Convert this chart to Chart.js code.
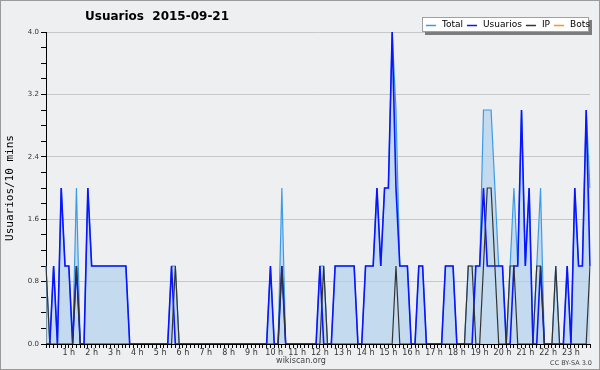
<!DOCTYPE html>
<html>
<head>
<meta charset="utf-8">
<script src="https://cdn.jsdelivr.net/npm/chart.js@4.4.1/dist/chart.umd.min.js"></script>
<style>
html, body { margin: 0; padding: 0; background: #eeeff1; }
#wrap { width: 600px; height: 370px; }
</style>
</head>
<body>
<div id="wrap"><canvas id="myChart" width="600" height="370"></canvas></div>
<script>
// 10-minute slots, 00:00 .. 23:50
const slots = [];
for (let h = 0; h < 24; h++) {
    for (let m = 0; m < 60; m += 10) {
        slots.push(String(h).padStart(2, '0') + ':' + String(m).padStart(2, '0'));
    }
}

const hourLabels = ['', '1 h', '2 h', '3 h', '4 h', '5 h', '6 h', '7 h', '8 h', '9 h', '10 h', '11 h',
    '12 h', '13 h', '14 h', '15 h', '16 h', '17 h', '18 h', '19 h', '20 h', '21 h', '22 h', '23 h'];
const yLabels = ['0.0', '0.8', '1.6', '2.4', '3.2', '4.0'];

// one row = 2 hours
const total = [
    1,0,1,0,2,1,1,0,2,0,0,2,
    1,1,1,1,1,1,1,1,1,1,0,0,
    0,0,0,0,0,0,0,0,0,1,1,0,
    0,0,0,0,0,0,0,0,0,0,0,0,
    0,0,0,0,0,0,0,0,0,0,0,1,
    0,0,2,0,0,0,0,0,0,0,0,0,
    1,1,0,0,1,1,1,1,1,1,0,0,
    1,1,1,2,1,2,2,4,3,1,1,1,
    0,0,1,1,0,0,0,0,0,1,1,1,
    0,0,0,1,1,1,1,3,3,3,2,1,
    1,0,1,2,1,3,1,2,0,1,2,0,
    0,0,1,0,0,1,0,2,1,1,3,2
];
const usuarios = [
    0,0,1,0,2,1,1,0,1,0,0,2,
    1,1,1,1,1,1,1,1,1,1,0,0,
    0,0,0,0,0,0,0,0,0,1,0,0,
    0,0,0,0,0,0,0,0,0,0,0,0,
    0,0,0,0,0,0,0,0,0,0,0,1,
    0,0,1,0,0,0,0,0,0,0,0,0,
    1,0,0,0,1,1,1,1,1,1,0,0,
    1,1,1,2,1,2,2,4,2,1,1,1,
    0,0,1,1,0,0,0,0,0,1,1,1,
    0,0,0,0,0,1,1,2,1,1,1,1,
    1,0,0,1,1,3,1,2,0,0,1,0,
    0,0,0,0,0,1,0,2,1,1,3,1
];
const ip = [
    1,0,0,0,0,0,0,0,1,0,0,0,
    0,0,0,0,0,0,0,0,0,0,0,0,
    0,0,0,0,0,0,0,0,0,0,1,0,
    0,0,0,0,0,0,0,0,0,0,0,0,
    0,0,0,0,0,0,0,0,0,0,0,0,
    0,0,1,0,0,0,0,0,0,0,0,0,
    0,1,0,0,0,0,0,0,0,0,0,0,
    0,0,0,0,0,0,0,0,1,0,0,0,
    0,0,0,0,0,0,0,0,0,0,0,0,
    0,0,0,1,1,0,0,1,2,2,1,0,
    0,0,1,1,0,0,0,0,0,1,1,0,
    0,0,1,0,0,0,0,0,0,0,0,1
];
const bots = [
    0,0,0,0,0,0,0,0,0,0,0,0,
    0,0,0,0,0,0,0,0,0,0,0,0,
    0,0,0,0,0,0,0,0,0,0,0,0,
    0,0,0,0,0,0,0,0,0,0,0,0,
    0,0,0,0,0,0,0,0,0,0,0,0,
    0,0,0,0,0,0,0,0,0,0,0,0,
    0,0,0,0,0,0,0,0,0,0,0,0,
    0,0,0,0,0,0,0,0,0,0,0,0,
    0,0,0,0,0,0,0,0,0,0,0,0,
    0,0,0,0,0,0,0,0,0,0,0,0,
    0,0,0,0,0,0,0,0,0,0,0,0,
    0,0,0,0,0,0,0,0,0,0,0,0
];

const seriesNames = ['Total', 'Usuarios', 'IP', 'Bots'];
const seriesColors = ['#3d9be6', '#0a14ff', '#333333', '#ff9900'];

const BG = '#eeeff1';

// background, frame, title, legend, footer
const decorPlugin = {
    id: 'decor',
    beforeDraw(chart) {
        const ctx = chart.ctx;
        ctx.save();
        ctx.fillStyle = BG;
        ctx.fillRect(0, 0, chart.width, chart.height);
        ctx.restore();
    },
    afterDraw(chart) {
        const ctx = chart.ctx;
        ctx.save();

        // outer frame
        ctx.strokeStyle = '#9a9a9a';
        ctx.lineWidth = 1;
        ctx.strokeRect(0.5, 0.5, chart.width - 1, chart.height - 1);

        // title
        ctx.fillStyle = '#000';
        ctx.font = 'bold 12px "DejaVu Sans"';
        ctx.textAlign = 'left';
        ctx.textBaseline = 'middle';
        ctx.fillText('Usuarios  2015-09-21', 85, 17);

        // y axis title
        ctx.save();
        ctx.translate(10, 188);
        ctx.rotate(-Math.PI / 2);
        ctx.font = '11px "DejaVu Sans Mono"';
        ctx.textAlign = 'center';
        ctx.fillStyle = '#000';
        ctx.fillText('Usuarios/10 mins', 0, 0);
        ctx.restore();

        // legend box with shadow
        const lx = 422, ly = 17, lw = 167, lh = 15;
        ctx.fillStyle = '#7c7c7c';
        ctx.fillRect(lx + 3, ly + 3, lw, lh);
        ctx.fillStyle = '#ffffff';
        ctx.fillRect(lx, ly, lw, lh);
        ctx.strokeStyle = '#a0a0a0';
        ctx.strokeRect(lx + 0.5, ly + 0.5, lw - 1, lh - 1);

        ctx.font = '9px "DejaVu Sans"';
        ctx.textBaseline = 'middle';
        let x = lx + 4;
        const cy = ly + lh / 2 + 0.5;
        seriesNames.forEach((name, i) => {
            ctx.strokeStyle = seriesColors[i];
            ctx.lineWidth = 1.5;
            ctx.beginPath();
            ctx.moveTo(x, Math.round(cy) + 0.5);
            ctx.lineTo(x + 10, Math.round(cy) + 0.5);
            ctx.stroke();
            ctx.fillStyle = '#000';
            ctx.fillText(name, x + 16, cy);
            x += 16 + ctx.measureText(name).width + 4;
        });

        // footer
        ctx.fillStyle = '#444';
        ctx.font = '8px "DejaVu Sans"';
        ctx.textAlign = 'center';
        ctx.fillText('wikiscan.org', 301, 361);
        ctx.font = '6.5px "DejaVu Sans"';
        ctx.textAlign = 'right';
        ctx.fillText('CC BY-SA 3.0', 592, 363);

        ctx.restore();
    }
};

const chartContext = document.getElementById('myChart').getContext('2d');

const chart = new Chart(chartContext, {
    type: 'line',
    data: {
        labels: slots,
        datasets: [{
            label: seriesNames[0],
            data: total,
            borderColor: seriesColors[0],
            backgroundColor: 'rgba(176, 210, 238, 0.7)',
            borderWidth: 1.2,
            fill: 'origin',
            order: 3
        }, {
            label: seriesNames[1],
            data: usuarios,
            borderColor: seriesColors[1],
            borderWidth: 1.6,
            fill: false,
            order: 2
        }, {
            label: seriesNames[2],
            data: ip,
            borderColor: seriesColors[2],
            borderWidth: 1.2,
            fill: false,
            order: 1
        }, {
            label: seriesNames[3],
            data: bots,
            borderColor: seriesColors[3],
            borderWidth: 1,
            fill: false,
            order: 4
        }]
    },
    plugins: [decorPlugin],
    options: {
        responsive: false,
        animation: false,
        devicePixelRatio: 1,
        layout: {
            padding: { left: 0, right: 10, top: 32, bottom: 0 }
        },
        elements: {
            point: { radius: 0 },
            line: { tension: 0 }
        },
        plugins: {
            legend: { display: false },
            title: { display: false },
            tooltip: { enabled: false }
        },
        scales: {
            x: {
                type: 'category',
                offset: false,
                z: 1,
                afterFit: (scale) => { scale.height = 26; },
                border: { display: true, color: '#000', width: 1 },
                grid: {
                    display: true,
                    drawOnChartArea: false,
                    drawTicks: true,
                    tickLength: 4,
                    tickColor: '#000'
                },
                ticks: {
                    autoSkip: false,
                    maxRotation: 0,
                    minRotation: 0,
                    padding: 0,
                    color: '#333',
                    font: { family: 'DejaVu Sans', size: 8 },
                    callback: (value, index) => (index % 6 === 0 ? hourLabels[index / 6] : '')
                }
            },
            y: {
                min: 0,
                max: 4,
                afterFit: (scale) => { scale.width = 46; },
                border: { display: true, color: '#000', width: 1 },
                grid: {
                    drawTicks: true,
                    tickLength: 5,
                    tickColor: '#000',
                    lineWidth: 1,
                    color: (c) => {
                        const k = c.tick.value / 0.8;
                        return (Math.abs(k - Math.round(k)) < 1e-6 && c.tick.value > 0) ? '#c8c8c8' : 'rgba(0,0,0,0)';
                    }
                },
                ticks: {
                    stepSize: 0.2,
                    autoSkip: false,
                    padding: 2,
                    color: '#333',
                    font: { family: 'DejaVu Sans', size: 7 },
                    callback: (value) => {
                        const k = value / 0.8;
                        return Math.abs(k - Math.round(k)) < 1e-6 ? yLabels[Math.round(k)] : '';
                    }
                }
            }
        }
    }
});
</script>
</body>
</html>
